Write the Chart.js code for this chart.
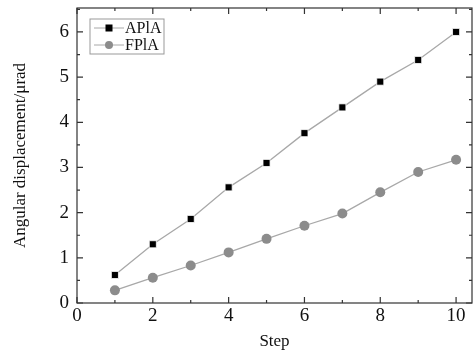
<!DOCTYPE html>
<html>
<head>
<meta charset="utf-8">
<script src="https://cdn.jsdelivr.net/npm/chart.js@4"></script>
<style>
  html, body { margin: 0; padding: 0; background: #fff; }
  #wrap { width: 473px; height: 361px; }
</style>
</head>
<body>
<div id="wrap"><canvas id="chart"></canvas></div>
<script>
const steps = [1, 2, 3, 4, 5, 6, 7, 8, 9, 10];
const aplaValues = [0.62, 1.3, 1.86, 2.56, 3.1, 3.76, 4.33, 4.9, 5.38, 6.0];
const fplaValues = [0.28, 0.56, 0.83, 1.12, 1.42, 1.71, 1.98, 2.45, 2.9, 3.17];
const xTickLabels = [0, 2, 4, 6, 8, 10];
const yTickLabels = [0, 1, 2, 3, 4, 5, 6];

const serif = "'Liberation Serif', 'Times New Roman', serif";
const lineGray = "#a8a8a8";

// frame + inward ticks on all four sides
const frameTicks = {
  id: "frameTicks",
  afterDraw(chart) {
    const { ctx, chartArea: a, scales } = chart;
    const xs = scales.x, ys = scales.y;
    ctx.save();
    ctx.strokeStyle = "#333";
    ctx.lineWidth = 1.2;
    ctx.strokeRect(a.left, a.top, a.right - a.left, a.bottom - a.top);
    ctx.beginPath();
    for (let v = 0; v <= 10; v++) {
      const px = xs.getPixelForValue(v);
      const len = v % 2 === 0 ? 6 : 3;
      ctx.moveTo(px, a.bottom); ctx.lineTo(px, a.bottom - len);
      ctx.moveTo(px, a.top); ctx.lineTo(px, a.top + len);
    }
    for (let v = 0; v <= 6.5; v += 0.5) {
      const py = ys.getPixelForValue(v);
      const len = v % 1 === 0 ? 6 : 3;
      ctx.moveTo(a.left, py); ctx.lineTo(a.left + len, py);
      ctx.moveTo(a.right, py); ctx.lineTo(a.right - len, py);
    }
    ctx.stroke();
    ctx.restore();
  }
};

// legend with line-marker-line samples
const boxLegend = {
  id: "boxLegend",
  afterDraw(chart) {
    const { ctx, chartArea: a } = chart;
    const x0 = a.left + 13, y0 = a.top + 11, w = 74, h = 35;
    ctx.save();
    ctx.strokeStyle = "#999";
    ctx.lineWidth = 1;
    ctx.strokeRect(x0, y0, w, h);
    ctx.font = "16px " + serif;
    ctx.textBaseline = "middle";
    chart.data.datasets.forEach((ds, i) => {
      const cy = y0 + 9 + i * 17;
      ctx.strokeStyle = lineGray;
      ctx.beginPath();
      ctx.moveTo(x0 + 4, cy); ctx.lineTo(x0 + 34, cy);
      ctx.stroke();
      ctx.fillStyle = ds.pointBackgroundColor;
      if (ds.pointStyle === "rect") {
        ctx.fillRect(x0 + 15.5, cy - 3.5, 7, 7);
      } else {
        ctx.beginPath();
        ctx.arc(x0 + 19, cy, 4, 0, Math.PI * 2);
        ctx.fill();
      }
      ctx.fillStyle = "#111";
      ctx.fillText(ds.label, x0 + 35, cy + 1);
    });
    ctx.restore();
  }
};

const noOverhang = (s) => {
  s.paddingTop = 0; s.paddingBottom = 0; s.paddingLeft = 0; s.paddingRight = 0;
};

new Chart(document.getElementById("chart"), {
  type: "line",
  data: {
    datasets: [
      {
        label: "APlA",
        data: steps.map((s, i) => ({ x: s, y: aplaValues[i] })),
        borderColor: lineGray,
        borderWidth: 1.3,
        pointStyle: "rect",
        pointRadius: 5,
        pointBackgroundColor: "#000",
        pointBorderColor: "#fff",
        pointBorderWidth: 0.8,
      },
      {
        label: "FPlA",
        data: steps.map((s, i) => ({ x: s, y: fplaValues[i] })),
        borderColor: lineGray,
        borderWidth: 1.3,
        pointStyle: "circle",
        pointRadius: 5,
        pointBackgroundColor: "#8c8c8c",
        pointBorderColor: "#8c8c8c",
        pointBorderWidth: 0,
      },
    ],
  },
  options: {
    responsive: true,
    maintainAspectRatio: false,
    animation: false,
    layout: { autoPadding: false, padding: { top: 8, right: 1, left: 0, bottom: 0 } },
    plugins: {
      legend: { display: false },
      tooltip: { enabled: false },
    },
    scales: {
      x: {
        type: "linear",
        min: 0,
        max: 10.42,
        afterBuildTicks: (s) => { s.ticks = xTickLabels.map((v) => ({ value: v })); },
        afterFit: (s) => { s.height = 58; noOverhang(s); },
        grid: { display: false, drawTicks: false },
        border: { display: false },
        ticks: { color: "#111", font: { family: serif, size: 19 }, padding: 2, maxRotation: 0 },
        title: { display: true, text: "Step", color: "#111", font: { family: serif, size: 17 }, padding: { top: 0, bottom: 9 } },
      },
      y: {
        min: 0,
        max: 6.53,
        afterBuildTicks: (s) => { s.ticks = yTickLabels.map((v) => ({ value: v })); },
        afterFit: (s) => { s.width = 77; noOverhang(s); },
        grid: { display: false, drawTicks: false },
        border: { display: false },
        ticks: { color: "#111", font: { family: serif, size: 19 }, padding: 8 },
        title: { display: true, text: "Angular displacement/μrad", color: "#111", font: { family: serif, size: 17 }, padding: { top: 10, bottom: 4 } },
      },
    },
  },
  plugins: [frameTicks, boxLegend],
});
</script>
</body>
</html>
